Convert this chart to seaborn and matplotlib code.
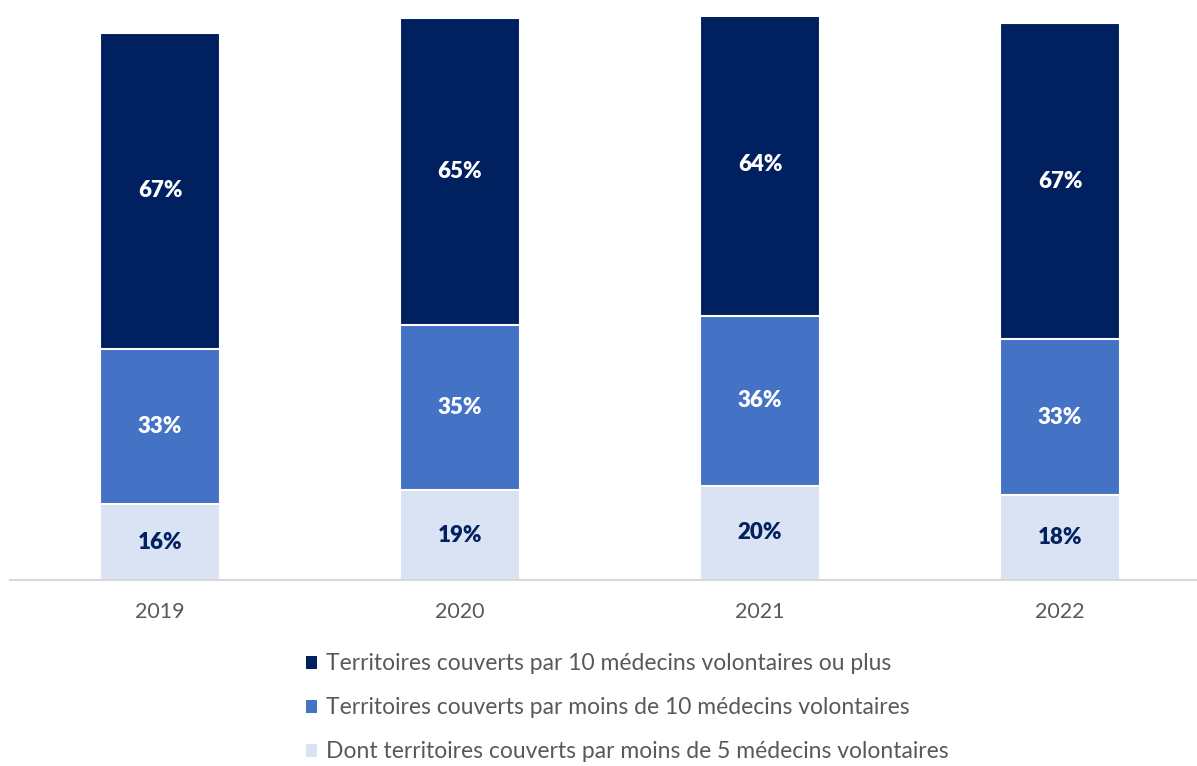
import matplotlib
matplotlib.use("Agg")
import matplotlib.pyplot as plt
import seaborn as sns
import pandas as pd
import numpy as np
from matplotlib.patches import Patch

years = ["2019", "2020", "2021", "2022"]
moins5 = [16, 19, 20, 18]      # dont territoires couverts par moins de 5 médecins
moins10 = [33, 35, 36, 33]     # territoires couverts par moins de 10 médecins
plus10 = [67, 65, 64, 67]      # territoires couverts par 10 médecins ou plus

labels = [
    "Territoires couverts par 10 médecins volontaires ou plus",
    "Territoires couverts par moins de 10 médecins volontaires",
    "Dont territoires couverts par moins de 5 médecins volontaires",
]
c_dark, c_mid, c_light = "#002060", "#4472C4", "#DAE3F3"

sns.set_theme(style="white")
plt.rcParams["font.family"] = ["Lato", "DejaVu Sans"]

df = pd.DataFrame({"year": years, "light": moins5, "mid": moins10, "dark": plus10})
df["cum_mid"] = df["light"] + df["mid"]
df["cum_dark"] = df["cum_mid"] + df["dark"]

fig = plt.figure(figsize=(11.97, 7.66), dpi=100)
ax = fig.add_axes([10 / 1197, (766 - 580) / 766, (1197 - 10) / 1197, (580 - 17) / 766])

bw = 0.40
for col, color in [("cum_dark", c_dark), ("cum_mid", c_mid), ("light", c_light)]:
    sns.barplot(data=df, x="year", y=col, color=color, width=bw, ax=ax,
                edgecolor="white", linewidth=1.5, saturation=1)

# segment labels centred in each part of the stack
for i in range(len(years)):
    lo = 0
    for val, tc in [(moins5[i], c_dark), (moins10[i], "white"), (plus10[i], "white")]:
        ax.text(i, lo + val / 2, f"{val}%", ha="center", va="center",
                fontsize=16, fontweight="heavy", color=tc)
        lo += val

ax.set_xlim(-0.5, (1197 - 160) / 300)
ax.set_ylim(0, 119.3)
ax.set_xlabel("")
ax.set_ylabel("")
ax.set_yticks([])
for s in ["top", "right", "left"]:
    ax.spines[s].set_visible(False)
ax.spines["bottom"].set_color("#D9D9D9")
ax.spines["bottom"].set_linewidth(1.5)
ax.tick_params(axis="x", length=0, pad=16, labelsize=15.5, labelcolor="#595959")

handles = [Patch(facecolor=c, edgecolor="none") for c in (c_dark, c_mid, c_light)]
fig.legend(handles, labels, loc="upper center", bbox_to_anchor=(0.524, (766 - 642) / 766),
           frameon=False, fontsize=16.5, labelcolor="#595959", handlelength=0.5,
           handleheight=0.5, handletextpad=0.4, labelspacing=1.0, borderpad=0)

fig.savefig("out.png", dpi=100)
